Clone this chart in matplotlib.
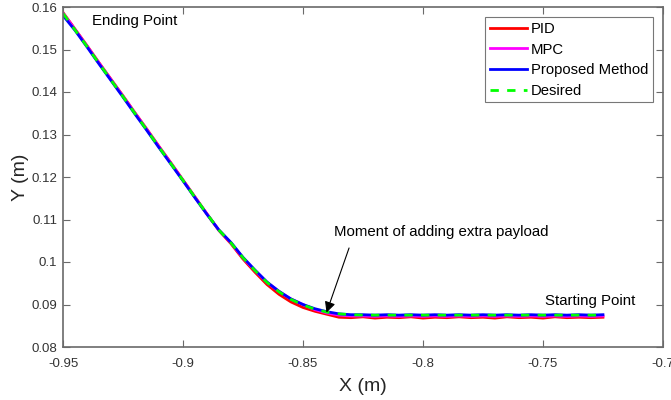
import matplotlib
matplotlib.use("Agg")
import matplotlib.pyplot as plt

x_vals = [-0.950, -0.945, -0.940, -0.935, -0.930, -0.925, -0.920, -0.915, -0.910, -0.905,
          -0.900, -0.895, -0.890, -0.885, -0.880, -0.875, -0.870, -0.865, -0.860, -0.855,
          -0.850, -0.845, -0.840, -0.835, -0.830, -0.825, -0.820, -0.815, -0.810, -0.805,
          -0.800, -0.795, -0.790, -0.785, -0.780, -0.775, -0.770, -0.765, -0.760, -0.755,
          -0.750, -0.745, -0.740, -0.735, -0.730, -0.725]

desired_y = [0.1585, 0.1546, 0.1507, 0.1467, 0.1428, 0.1389, 0.1349, 0.1310, 0.1270, 0.1231,
             0.1192, 0.1152, 0.1113, 0.1075, 0.1045, 0.1010, 0.0980, 0.0952, 0.0930, 0.0912,
             0.0899, 0.0889, 0.0882, 0.0878, 0.0876, 0.0875, 0.0875, 0.0875, 0.0875, 0.0875,
             0.0875, 0.0875, 0.0875, 0.0875, 0.0875, 0.0875, 0.0875, 0.0875, 0.0875, 0.0875,
             0.0875, 0.0875, 0.0875, 0.0875, 0.0875, 0.0875]

pid_y = [0.1587, 0.1548, 0.1509, 0.1469, 0.1430, 0.1391, 0.1351, 0.1312, 0.1272, 0.1233,
         0.1193, 0.1153, 0.1113, 0.1074, 0.1043, 0.1007, 0.0976, 0.0947, 0.0924, 0.0906,
         0.0893, 0.0884, 0.0877, 0.0870, 0.0869, 0.0871, 0.0868, 0.0870, 0.0869, 0.0871,
         0.0868, 0.0870, 0.0869, 0.0871, 0.0869, 0.0870, 0.0868, 0.0871, 0.0869, 0.0870,
         0.0868, 0.0871, 0.0869, 0.0870, 0.0869, 0.0870]

mpc_y = [0.1586, 0.1547, 0.1508, 0.1468, 0.1429, 0.1390, 0.1350, 0.1311, 0.1271, 0.1232,
         0.1192, 0.1152, 0.1113, 0.1075, 0.1045, 0.1010, 0.0980, 0.0952, 0.0931, 0.0913,
         0.0900, 0.0888, 0.0880, 0.0875, 0.0873, 0.0873, 0.0872, 0.0873, 0.0872, 0.0873,
         0.0872, 0.0873, 0.0872, 0.0873, 0.0872, 0.0873, 0.0872, 0.0873, 0.0872, 0.0873,
         0.0872, 0.0873, 0.0872, 0.0873, 0.0872, 0.0873]

proposed_y = [0.1580, 0.1545, 0.1506, 0.1466, 0.1427, 0.1388, 0.1348, 0.1309, 0.1269, 0.1230,
              0.1191, 0.1151, 0.1112, 0.1075, 0.1046, 0.1011, 0.0981, 0.0953, 0.0931, 0.0913,
              0.0900, 0.0890, 0.0883, 0.0878, 0.0876, 0.0876, 0.0875, 0.0876, 0.0875, 0.0876,
              0.0875, 0.0876, 0.0875, 0.0876, 0.0875, 0.0876, 0.0875, 0.0876, 0.0875, 0.0876,
              0.0875, 0.0876, 0.0875, 0.0876, 0.0875, 0.0876]

x_ticks = [-0.95, -0.9, -0.85, -0.8, -0.75, -0.7]
x_tick_labels = ["-0.95", "-0.9", "-0.85", "-0.8", "-0.75", "-0.7"]
y_ticks = [0.08, 0.09, 0.10, 0.11, 0.12, 0.13, 0.14, 0.15, 0.16]
y_tick_labels = ["0.08", "0.09", "0.1", "0.11", "0.12", "0.13", "0.14", "0.15", "0.16"]

plt.rcParams['font.family'] = ['Liberation Sans', 'DejaVu Sans']

fig = plt.figure(figsize=(6.71, 4.0), dpi=100)
ax = fig.add_axes([0.0939, 0.1325, 0.8941, 0.85])

ax.plot(x_vals, pid_y, color='#ff0000', lw=2, label='PID')
ax.plot(x_vals, mpc_y, color='#ff00ff', lw=2, label='MPC')
ax.plot(x_vals, proposed_y, color='#0000ff', lw=2, label='Proposed Method')
ax.plot(x_vals, desired_y, color='#00ff00', lw=2, ls=(0, (3, 3)), label='Desired')

ax.set_xlim(-0.95, -0.7)
ax.set_ylim(0.08, 0.16)
ax.set_xticks(x_ticks)
ax.set_xticklabels(x_tick_labels)
ax.set_yticks(y_ticks)
ax.set_yticklabels(y_tick_labels)

axc = '#6a6a6a'
for s in ax.spines.values():
    s.set_color(axc)
    s.set_linewidth(1.2)
ax.tick_params(direction='in', top=True, right=True, length=5, width=0.8,
               colors=axc, labelsize=9.5, labelcolor='#333333')
ax.tick_params(axis='x', pad=8)
ax.tick_params(axis='y', pad=4)
ax.set_xlabel('X (m)', fontsize=14, color='#262626', labelpad=6)
ax.set_ylabel('Y (m)', fontsize=14, color='#262626', labelpad=2)

ax.text(-0.938, 0.1567, 'Ending Point', fontsize=10.8, va='center', ha='left', color='k')
ax.text(-0.7492, 0.0908, 'Starting Point', fontsize=10.8, va='center', ha='left', color='k')
ax.text(-0.837, 0.1070, 'Moment of adding extra payload', fontsize=10.8,
        va='center', ha='left', color='k')
ax.annotate('', xy=(-0.8402, 0.0881), xytext=(-0.8308, 0.1033),
            arrowprops=dict(arrowstyle='-|>', color='k', lw=0.8,
                            mutation_scale=16, shrinkA=0, shrinkB=0))

leg = ax.legend(loc='upper right', fontsize=10.7, frameon=True, fancybox=False,
                edgecolor='#555555', handlelength=2.5, handletextpad=0.25,
                borderpad=0.3, labelspacing=0.45, borderaxespad=0.7)
leg.get_frame().set_linewidth(0.8)

fig.savefig('out.png', dpi=100)
